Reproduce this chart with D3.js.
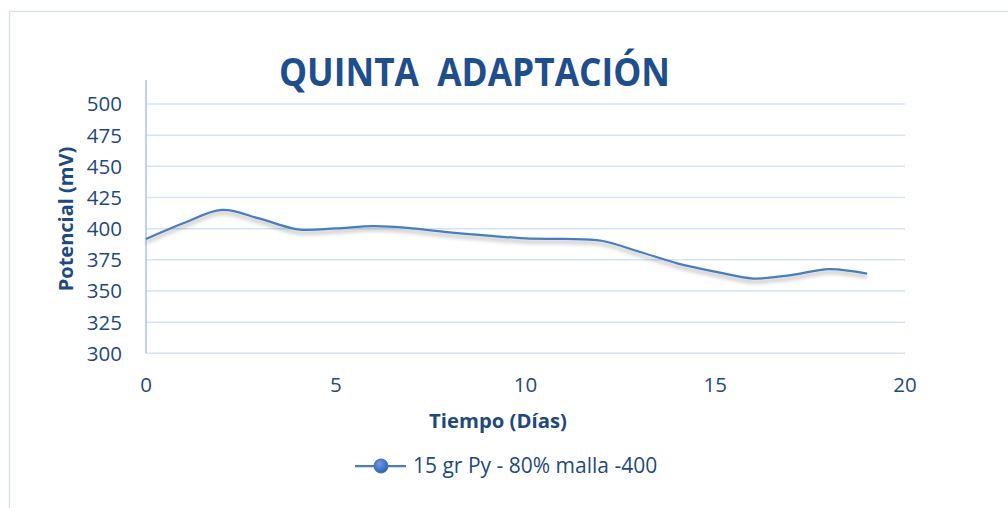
<!DOCTYPE html>
<html>
<head>
<meta charset="utf-8">
<script src="https://cdn.jsdelivr.net/npm/d3@7"></script>
<style>
    body { margin: 0; background: #fff; }
    text { font-family: "Open Sans", sans-serif; }
</style>
</head>
<body>
<svg id="chart" width="1008" height="508"></svg>
<script>
// data
var dias = [0, 1, 2, 3, 4, 5, 6, 7, 8, 9, 10, 11, 12, 13, 14, 15, 16, 17, 18, 19];
var potencial = [391.7, 404.5, 415, 408, 399.5, 400.2, 402, 400.3, 397, 394.4,
    392.2, 391.7, 390.3, 381.5, 372.2, 365.5, 360, 362.8, 367.6, 363.9];
var yTicks = [300, 325, 350, 375, 400, 425, 450, 475, 500];
var xTicks = [0, 5, 10, 15, 20];
var serieName = "15 gr Py - 80% malla -400";

// colours
var txtColor = "#1f497d",
    lineColor = "#4a7ebb",
    gridColor = "#d5e3f5";

var svg = d3.select("#chart");

// chart border
svg.append("rect")
    .attr("x", 9.5).attr("y", 11.5)
    .attr("width", 1010).attr("height", 510)
    .attr("fill", "none").attr("stroke", "#d6e0ef").attr("stroke-width", 1.5);

var xScale = d3.scaleLinear().domain([0, 20]).range([146, 905]);
var yScale = d3.scaleLinear().domain([300, 500]).range([353.3, 104]);

// shadow for the line
var defs = svg.append("defs");
defs.append("filter").attr("id", "shadow")
    .attr("x", "-5%").attr("y", "-20%").attr("width", "110%").attr("height", "160%")
    .append("feDropShadow")
    .attr("dx", 0).attr("dy", 3).attr("stdDeviation", 2)
    .attr("flood-color", "#000").attr("flood-opacity", 0.35);
var grad = defs.append("radialGradient").attr("id", "mk")
    .attr("cx", "40%").attr("cy", "35%").attr("r", "65%");
grad.append("stop").attr("offset", "0%").attr("stop-color", "#6f9be0");
grad.append("stop").attr("offset", "100%").attr("stop-color", "#2f62b0");

// gridlines
svg.append("g").selectAll("line")
    .data(yTicks)
    .join("line")
    .attr("x1", xScale(0)).attr("x2", xScale(20))
    .attr("y1", d => yScale(d)).attr("y2", d => yScale(d))
    .attr("stroke", gridColor).attr("stroke-width", 1.5);

// y axis line
svg.append("line")
    .attr("x1", xScale(0)).attr("x2", xScale(0))
    .attr("y1", 80).attr("y2", yScale(300))
    .attr("stroke", "#a9c4eb").attr("stroke-width", 1.5);

// tick labels
svg.append("g").selectAll("text")
    .data(yTicks)
    .join("text")
    .attr("x", 122).attr("y", d => yScale(d))
    .attr("dy", "0.36em")
    .attr("text-anchor", "end")
    .attr("font-size", 20.5).attr("fill", txtColor)
    .text(d => d);

svg.append("g").selectAll("text")
    .data(xTicks)
    .join("text")
    .attr("x", d => xScale(d)).attr("y", 392)
    .attr("text-anchor", "middle")
    .attr("font-size", 20.5).attr("fill", txtColor)
    .text(d => d);

// titles
svg.append("text")
    .attr("x", 279).attr("y", 86)
    .attr("font-size", 39).attr("font-weight", "bold").attr("fill", "#1f4e8c")
    .attr("textLength", 391).attr("lengthAdjust", "spacingAndGlyphs")
    .style("white-space", "pre")
    .text("QUINTA  ADAPTACIÓN");

svg.append("text")
    .attr("x", 498).attr("y", 428)
    .attr("text-anchor", "middle")
    .attr("font-size", 20.3).attr("font-weight", "bold").attr("fill", txtColor)
    .text("Tiempo (Días)");

svg.append("text")
    .attr("transform", "translate(73,219) rotate(-90)")
    .attr("text-anchor", "middle")
    .attr("font-size", 20).attr("font-weight", "bold").attr("fill", txtColor)
    .text("Potencial (mV)");

// the series
var line = d3.line()
    .x((d, i) => xScale(dias[i]))
    .y(d => yScale(d))
    .curve(d3.curveCatmullRom.alpha(0));

svg.append("path")
    .datum(potencial)
    .attr("d", line)
    .attr("fill", "none")
    .attr("stroke", lineColor)
    .attr("stroke-width", 2.25)
    .attr("filter", "url(#shadow)");

// legend
var leg = svg.append("g");
leg.append("line")
    .attr("x1", 355).attr("x2", 406).attr("y1", 466).attr("y2", 466)
    .attr("stroke", lineColor).attr("stroke-width", 2.25);
leg.append("circle")
    .attr("cx", 381).attr("cy", 466).attr("r", 7)
    .attr("fill", "url(#mk)").attr("stroke", "#3a6db8").attr("stroke-width", 1);
leg.append("text")
    .attr("x", 413).attr("y", 473)
    .attr("font-size", 21).attr("fill", txtColor)
    .text(serieName);
</script>
</body>
</html>
